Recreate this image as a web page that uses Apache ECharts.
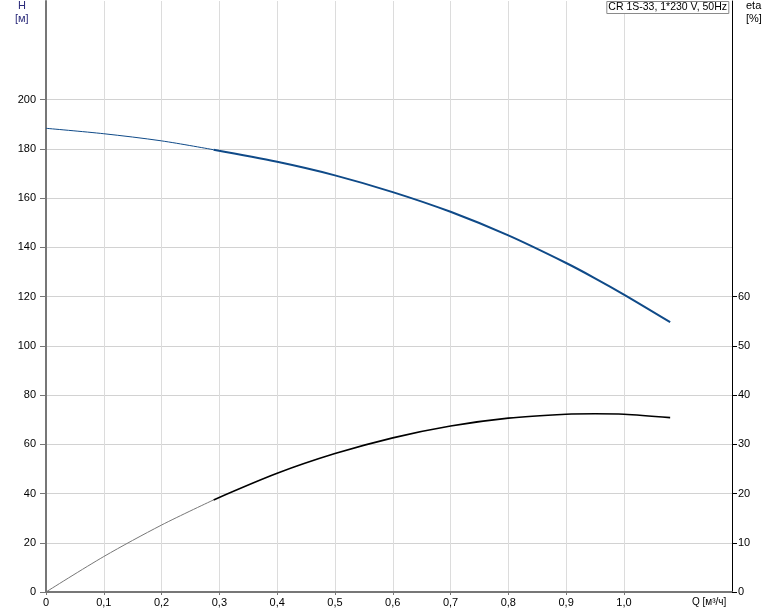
<!DOCTYPE html>
<html>
<head>
<meta charset="utf-8">
<script src="https://cdn.jsdelivr.net/npm/echarts@6/dist/echarts.min.js"></script>
<style>
  html, body { margin: 0; padding: 0; background: #fff; }
  #chart { width: 774px; height: 611px; }
</style>
</head>
<body>
<div id="chart"></div>
<script>
// flow values Q [m3/h], thin (off-range) part and main part of each curve
var qThin = [0, 0.1, 0.2, 0.29];
var hThin = [188.3, 186.1, 183.2, 179.6];
var etaThin = [0, 7.2, 13.6, 18.7];

var qMain = [0.29, 0.4, 0.5, 0.6, 0.7, 0.8, 0.9, 0.95, 1.0, 1.08];
var hMain = [179.6, 174.7, 169.2, 162.4, 154.4, 144.8, 133.6, 127.4, 120.8, 109.6];
var etaMain = [18.7, 24.1, 28.1, 31.3, 33.7, 35.3, 36.1, 36.2, 36.1, 35.4];

var xTicks = [0, 0.1, 0.2, 0.3, 0.4, 0.5, 0.6, 0.7, 0.8, 0.9, 1.0];
var hTicks = [0, 20, 40, 60, 80, 100, 120, 140, 160, 180, 200];
var etaTicks = [0, 10, 20, 30, 40, 50, 60];

var title = 'CR 1S-33, 1*230 V, 50Hz';

function pairs(xs, ys) {
  return xs.map(function (x, i) { return [x, ys[i]]; });
}

var font = 'Liberation Sans, Arial, sans-serif';
var blue = '#0f4a88';

var chart = echarts.init(document.getElementById('chart'));
chart.setOption({
  animation: false,
  title: {
    text: title,
    right: 45,
    top: 1,
    padding: [1, 2, 1, 2],
    borderColor: '#8a8a8a',
    borderWidth: 1,
    backgroundColor: '#fff',
    textStyle: { fontFamily: font, fontSize: 10.5, fontWeight: 'normal', color: '#000' }
  },
  grid: { left: 46, right: 42, top: 1, bottom: 19 },
  xAxis: {
    type: 'value',
    min: 0,
    max: 1.187,
    interval: 0.1,
    axisLine: { lineStyle: { color: '#777', width: 2 } },
    axisTick: { show: true, length: 3, lineStyle: { color: '#777' }, customValues: xTicks },
    axisLabel: {
      customValues: xTicks,
      fontFamily: font, fontSize: 11, color: '#000', margin: 5,
      formatter: function (v) { return v === 0 ? '0' : v.toFixed(1).replace('.', ','); }
    },
    splitLine: { show: true, lineStyle: { color: '#dcdcdc', width: 1 } }
  },
  yAxis: [{
    type: 'value',
    min: 0,
    max: 240,
    interval: 20,
    axisLine: { show: true, lineStyle: { color: '#777', width: 2 } },
    axisTick: { show: true, length: 6, lineStyle: { color: '#777' }, customValues: hTicks },
    axisLabel: { customValues: hTicks, fontFamily: font, fontSize: 11, color: '#000', margin: 10 },
    splitLine: { show: true, lineStyle: { color: '#d2d2d2', width: 1 } }
  }, {
    type: 'value',
    min: 0,
    max: 120,
    interval: 10,
    position: 'right',
    axisLine: { show: true, lineStyle: { color: '#000', width: 1 } },
    axisTick: { show: true, length: 5, lineStyle: { color: '#000' }, customValues: etaTicks },
    axisLabel: { customValues: etaTicks, fontFamily: font, fontSize: 11, color: '#000', margin: 6 },
    splitLine: { show: false }
  }],
  graphic: [
    { type: 'text', left: 18, top: 0, style: { text: 'H', font: '11px ' + font, fill: '#2a2a7a' } },
    { type: 'text', left: 15, top: 13, style: { text: '[м]', font: '11px ' + font, fill: '#2a2a7a' } },
    { type: 'text', left: 746, top: 0, style: { text: 'eta', font: '11px ' + font, fill: '#000' } },
    { type: 'text', left: 746, top: 13, style: { text: '[%]', font: '11px ' + font, fill: '#000' } },
    { type: 'text', left: 692, top: 597, style: { text: 'Q [м³/ч]', font: '10px ' + font, fill: '#000' } }
  ],
  series: [{
    name: 'H thin', type: 'line', yAxisIndex: 0, smooth: 0.3, symbol: 'none',
    lineStyle: { color: blue, width: 1 },
    data: pairs(qThin, hThin)
  }, {
    name: 'H', type: 'line', yAxisIndex: 0, smooth: 0.3, symbol: 'none',
    lineStyle: { color: blue, width: 2 },
    data: pairs(qMain, hMain)
  }, {
    name: 'eta thin', type: 'line', yAxisIndex: 1, smooth: 0.3, symbol: 'none',
    lineStyle: { color: '#777', width: 1 },
    data: pairs(qThin, etaThin)
  }, {
    name: 'eta', type: 'line', yAxisIndex: 1, smooth: 0.3, symbol: 'none',
    lineStyle: { color: '#000', width: 1.6 },
    data: pairs(qMain, etaMain)
  }]
});
</script>
</body>
</html>
